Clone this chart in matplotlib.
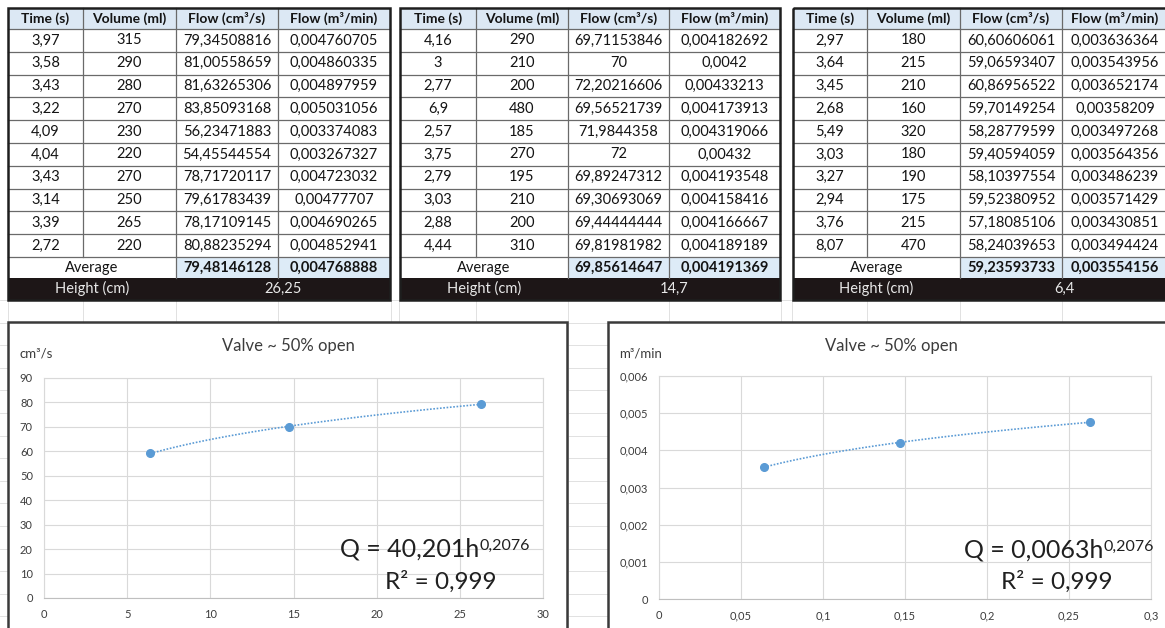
import numpy as np
import matplotlib.pyplot as plt
from matplotlib.patches import Rectangle
from matplotlib.ticker import MultipleLocator, FuncFormatter

plt.rcParams['font.family'] = ['Lato', 'DejaVu Sans']

# --- readings (three valve heights) ---
time_1 = [3.97, 3.58, 3.43, 3.22, 4.09, 4.04, 3.43, 3.14, 3.39, 2.72]
vol_1 = [315, 290, 280, 270, 230, 220, 270, 250, 265, 220]
flow_cm3_1 = [79.34508816, 81.00558659, 81.63265306, 83.85093168, 56.23471883,
              54.45544554, 78.71720117, 79.61783439, 78.17109145, 80.88235294]
flow_m3_1 = [0.004760705, 0.004860335, 0.004897959, 0.005031056, 0.003374083,
             0.003267327, 0.004723032, 0.00477707, 0.004690265, 0.004852941]

time_2 = [4.16, 3, 2.77, 6.9, 2.57, 3.75, 2.79, 3.03, 2.88, 4.44]
vol_2 = [290, 210, 200, 480, 185, 270, 195, 210, 200, 310]
flow_cm3_2 = [69.71153846, 70, 72.20216606, 69.56521739, 71.9844358,
              72, 69.89247312, 69.30693069, 69.44444444, 69.81981982]
flow_m3_2 = [0.004182692, 0.0042, 0.00433213, 0.004173913, 0.004319066,
             0.00432, 0.004193548, 0.004158416, 0.004166667, 0.004189189]

time_3 = [2.97, 3.64, 3.45, 2.68, 5.49, 3.03, 3.27, 2.94, 3.76, 8.07]
vol_3 = [180, 215, 210, 160, 320, 180, 190, 175, 215, 470]
flow_cm3_3 = [60.60606061, 59.06593407, 60.86956522, 59.70149254, 58.28779599,
              59.40594059, 58.10397554, 59.52380952, 57.18085106, 58.24039653]
flow_m3_3 = [0.003636364, 0.003543956, 0.003652174, 0.00358209, 0.003497268,
             0.003564356, 0.003486239, 0.003571429, 0.003430851, 0.003494424]

avg_cm3 = [79.48146128, 69.85614647, 59.23593733]
avg_m3 = [0.004768888, 0.004191369, 0.003554156]
height_cm = [26.25, 14.7, 6.4]
height_m = [h / 100 for h in height_cm]

headers = ["Time (s)", "Volume (ml)", "Flow (cm³/s)", "Flow (m³/min)"]
eq_cm3 = ("Q = 40,201h", "0,2076", "R² = 0,999")
eq_m3 = ("Q = 0,0063h", "0,2076", "R² = 0,999")

W, H = 1165, 628
fig = plt.figure(figsize=(W / 100, H / 100), dpi=100)
bg = fig.add_axes([0, 0, 1, 1])
bg.set_xlim(0, W)
bg.set_ylim(H, 0)
bg.axis('off')


def fmt(v):
    return f"{v:.10g}".replace('.', ',')


# faint sheet grid under the charts
for yy in np.arange(300, H + 5, 22.6):
    bg.plot([0, W], [yy, yy], color='#dcdcdc', lw=0.6, zorder=0)
for xx in [8, 83, 176, 278, 391, 399, 476, 568, 669, 781, 792, 867, 960, 1062]:
    bg.plot([xx, xx], [300, H], color='#dcdcdc', lw=0.6, zorder=0)

top, head_h, row_h = 8, 21, 22.8
data_end = top + head_h + row_h * 10
avg_end = data_end + 20.5
tab_end = 300
line_c = '#6a6a6a'
txt_c = '#141414'


def draw_table(edges, times, vols, fcm, fm3, a_c, a_m, h):
    x0, x4 = edges[0], edges[-1]
    bg.add_patch(Rectangle((x0, top), x4 - x0, head_h, fc='#dce8f4', ec='none', zorder=1))
    bg.add_patch(Rectangle((edges[2], data_end), x4 - edges[2], avg_end - data_end,
                           fc='#ddebf7', ec='none', zorder=1))
    bg.add_patch(Rectangle((x0, avg_end), x4 - x0, tab_end - avg_end,
                           fc='#1d1617', ec='none', zorder=1))
    # inner lines
    for i in range(11):
        yy = top + head_h + row_h * i
        bg.plot([x0, x4], [yy, yy], color=line_c, lw=0.9, zorder=2)
    for k, xx in enumerate(edges[1:-1], start=1):
        y_stop = data_end if k == 1 else avg_end
        bg.plot([xx, xx], [top, y_stop], color=line_c, lw=0.9, zorder=2)
    bg.add_patch(Rectangle((x0, top), x4 - x0, tab_end - top, fc='none',
                           ec='#1e1e1e', lw=1.8, zorder=4))
    cx = [(edges[i] + edges[i + 1]) / 2 for i in range(4)]
    for i, lab in enumerate(headers):
        bg.text(cx[i], top + head_h / 2, lab, ha='center', va='center',
                fontsize=10, fontweight='bold', color=txt_c, zorder=5)
    for r in range(10):
        yy = top + head_h + row_h * (r + 0.5)
        for i, v in enumerate([times[r], vols[r], fcm[r], fm3[r]]):
            bg.text(cx[i], yy, fmt(v), ha='center', va='center',
                    fontsize=10.5, color=txt_c, zorder=5)
    ya = (data_end + avg_end) / 2 + 0.5
    bg.text((edges[0] + edges[2]) / 2, ya, "Average", ha='center', va='center',
            fontsize=10.5, color=txt_c, zorder=5)
    bg.text(cx[2], ya, fmt(a_c), ha='center', va='center', fontsize=10.5,
            fontweight='bold', color=txt_c, zorder=5)
    bg.text(cx[3], ya, fmt(a_m), ha='center', va='center', fontsize=10.5,
            fontweight='bold', color=txt_c, zorder=5)
    yh = (avg_end + tab_end) / 2
    bg.text((edges[0] + edges[2]) / 2, yh, "Height (cm)", ha='center', va='center',
            fontsize=10.5, color='#e8e8e8', zorder=5)
    bg.text((edges[2] + edges[4]) / 2, yh, fmt(h), ha='center', va='center',
            fontsize=10.5, color='#e8e8e8', zorder=5)


tables = [
    ([8, 83, 176, 278, 390], time_1, vol_1, flow_cm3_1, flow_m3_1),
    ([400, 476, 568, 669, 780], time_2, vol_2, flow_cm3_2, flow_m3_2),
    ([793, 867, 960, 1062, 1168], time_3, vol_3, flow_cm3_3, flow_m3_3),
]
for k, (edges, t, v, fc, fm) in enumerate(tables):
    draw_table(edges, t, v, fc, fm, avg_cm3[k], avg_m3[k], height_cm[k])


def comma(v, _):
    return f"{v:g}".replace('.', ',')


def draw_chart(box, plot, x, y, xmax, xstep, ymax, ystep, unit, title_x, eq, eq_x, eq_y, r2_x):
    bl, bt, br, bb = box
    bg.add_patch(Rectangle((bl, bt), br - bl, bb - bt, fc='white', ec='#3a3a3a',
                           lw=1.8, zorder=3))
    l, t, r, b = plot
    ax = fig.add_axes([l / W, 1 - b / H, (r - l) / W, (b - t) / H])
    ax.set_facecolor('none')
    ax.set_xlim(0, xmax)
    ax.set_ylim(0, ymax)
    ax.xaxis.set_major_locator(MultipleLocator(xstep))
    ax.yaxis.set_major_locator(MultipleLocator(ystep))
    ax.xaxis.set_major_formatter(FuncFormatter(comma))
    ax.yaxis.set_major_formatter(FuncFormatter(comma))
    ax.grid(True, color='#d9d9d9', lw=0.8)
    ax.set_axisbelow(True)
    for s in ax.spines.values():
        s.set_color('#d9d9d9')
        s.set_linewidth(0.8)
    ax.spines['bottom'].set_color('#bfbfbf')
    ax.tick_params(length=0, labelsize=8, labelcolor='#3c3c3c', pad=8)

    coef = np.polyfit(np.log(x), np.log(y), 1)
    xs = np.linspace(min(x), max(x), 100)
    ax.plot(xs, np.exp(coef[1]) * xs ** coef[0], ls=(0, (1, 1)), color='#5b9bd5', lw=1.2)
    ax.plot(x, y, 'o', ms=5.5, color='#5b9bd5')

    bg.text(title_x, 346, "Valve ~ 50% open", ha='center', va='center',
            fontsize=12, color='#3c3c3c', zorder=5)
    bg.text(bl + 11, 353, unit, ha='left', va='center', fontsize=9.5,
            color='#3c3c3c', zorder=5)
    main = ax.text(eq_x, eq_y, eq[0], transform=bg.transData, ha='left', va='center',
                   fontsize=18, color='#202020')
    ax.annotate(eq[1], xy=(1.0, 0.93), xycoords=main, ha='left', va='top',
                fontsize=11.5, color='#202020')
    ax.text(r2_x, 582, eq[2], transform=bg.transData, ha='center', va='center',
            fontsize=17.5, color='#202020')
    return ax


draw_chart((8, 322, 567, 650), (44, 378, 543, 598), height_cm, avg_cm3,
           30, 5, 90, 10, "cm³/s", 288, eq_cm3, 340, 549, 441)
draw_chart((608, 322, 1185, 650), (659, 376, 1151, 599), height_m, avg_m3,
           0.3, 0.05, 0.006, 0.001, "m³/min", 891, eq_m3, 964, 550, 1057)

fig.savefig("out.png", dpi=100)
